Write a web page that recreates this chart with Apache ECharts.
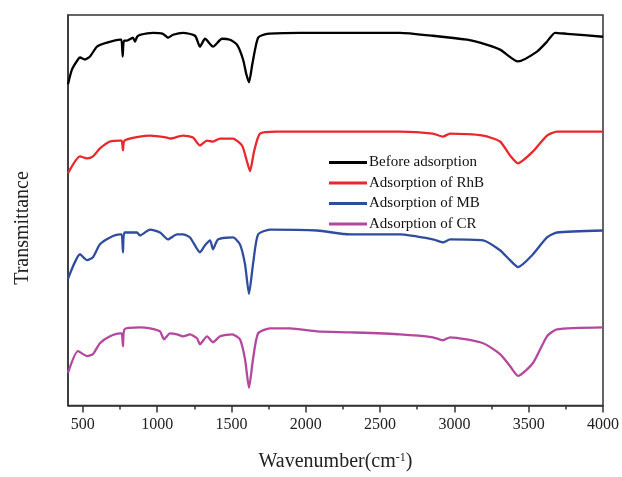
<!DOCTYPE html>
<html>
<head>
<meta charset="utf-8">
<script src="https://cdn.jsdelivr.net/npm/echarts@6/dist/echarts.min.js"></script>
<style>html,body{margin:0;padding:0;background:#fff}#c{width:622px;height:477px}</style>
</head>
<body>
<div id="c"></div>
<script>
// Wavenumber tick labels
var xMajorTicks = [500, 1000, 1500, 2000, 2500, 3000, 3500, 4000];
var xMinorTicks = [750, 1250, 1750, 2250, 2750, 3250, 3750];
var seriesNames = ['Before adsorption', 'Adsorption of RhB', 'Adsorption of MB', 'Adsorption of CR'];

// [wavenumber, transmittance (arbitrary, offset)]
var before = [[400,325],[427,340],[467,350],[481,352],[514,350],[548,353],[595,363],[662,367],[750,370],[760,370],[768,353],[776,369],[797,369],[837,372],[851,368],[865,373],[884,375],[972,377],[1039,376],[1073,372],[1107,375],[1174,377],[1255,374],[1288,363],[1322,371],[1376,363],[1436,371],[1490,370],[1537,365],[1578,350],[1600,335],[1618,327],[1640,345],[1679,372],[1739,376],[1961,377],[2096,377],[2634,377],[2856,374],[3085,370],[3172,367],[3307,360],[3428,348],[3556,358],[3623,368],[3677,377],[3758,376],[4000,373]];
var rhb = [[400,235],[481,252],[528,250],[568,252],[615,260],[683,267],[750,268],[762,268],[770,258],[780,268],[884,272],[952,273],[1066,271],[1086,270],[1174,273],[1241,271],[1288,263],[1335,268],[1376,267],[1423,270],[1510,270],[1571,263],[1604,247],[1625,237],[1652,257],[1692,275],[1806,277],[2298,277],[2634,277],[2856,275],[2923,272],[2971,275],[3193,273],[3307,267],[3374,253],[3428,245],[3529,257],[3623,273],[3690,277],[4000,277]];
var mb = [[400,128],[481,153],[528,147],[568,150],[615,163],[683,170],[750,173],[762,173],[770,155],[780,175],[864,175],[884,172],[952,178],[1019,175],[1073,168],[1133,173],[1174,173],[1221,170],[1288,155],[1322,162],[1356,167],[1376,158],[1409,168],[1510,170],[1557,163],[1591,143],[1618,113],[1645,143],[1679,173],[1759,178],[2076,177],[2298,173],[2634,173],[2856,168],[2923,165],[2971,168],[3193,167],[3307,157],[3374,147],[3428,140],[3529,153],[3623,170],[3690,175],[4000,177]];
var cr = [[400,33],[467,55],[528,50],[568,52],[615,63],[683,70],[750,73],[762,73],[770,60],[780,77],[884,79],[952,78],[1019,75],[1046,67],[1086,73],[1133,72],[1174,70],[1221,72],[1268,68],[1288,62],[1335,70],[1376,64],[1423,70],[1504,72],[1557,67],[1591,47],[1618,18],[1645,47],[1679,73],[1759,78],[1894,78],[2076,75],[2298,74],[2634,72],[2856,69],[2923,66],[2971,69],[3193,63],[3307,52],[3374,40],[3428,30],[3529,43],[3623,70],[3690,77],[4000,79]];

var colors = ['#000000', '#e8282c', '#2f4c9f', '#b3489e'];
var serif = 'Liberation Serif';

var chart = echarts.init(document.getElementById('c'), null, {renderer: 'canvas'});
function mk(name, data, color) {
  return {
    name: name, type: 'line', data: data, showSymbol: false, symbol: 'none',
    smooth: 0.2, xAxisIndex: 0, yAxisIndex: 0,
    lineStyle: {color: color, width: 2.3}, itemStyle: {color: color}
  };
}
chart.setOption({
  animation: false,
  backgroundColor: '#ffffff',
  grid: {left: 68, right: 19, top: 15, bottom: 67, show: true, borderColor: '#333', borderWidth: 1.5, backgroundColor: 'transparent'},
  legend: {
    orient: 'vertical', left: 324, top: 150,
    icon: 'rect', itemWidth: 38, itemHeight: 3, itemGap: 5.5,
    textStyle: {fontFamily: serif, fontSize: 15, color: '#111', lineHeight: 15, padding: [0, 0, 0, -3]},
    data: seriesNames
  },
  xAxis: [{
    type: 'value', min: 400, max: 4000, position: 'bottom',
    axisLine: {show: true, lineStyle: {color: '#333', width: 1.5}},
    axisTick: {show: true, customValues: xMajorTicks, length: 7, lineStyle: {color: '#333', width: 1.5}},
    axisLabel: {show: true, customValues: xMajorTicks, margin: 11, fontFamily: serif, fontSize: 16, color: '#222',
      formatter: function (v) { return String(v); }},
    splitLine: {show: false},
    name: 'Wavenumber(cm{sup|-1})', nameLocation: 'middle', nameGap: 46,
    nameTextStyle: {fontFamily: serif, fontSize: 20, color: '#222',
      rich: {sup: {fontFamily: serif, fontSize: 12, color: '#222', padding: [0, 0, 9, 0]}}}
  }, {
    type: 'value', min: 400, max: 4000, position: 'bottom', gridIndex: 0,
    axisLine: {show: false},
    axisTick: {show: true, customValues: xMinorTicks, length: 4, lineStyle: {color: '#333', width: 1.5}},
    axisLabel: {show: false}, splitLine: {show: false}
  }],
  yAxis: {
    type: 'value', min: 0, max: 395,
    axisLine: {show: true, lineStyle: {color: '#333', width: 1.5}},
    axisTick: {show: false}, axisLabel: {show: false}, splitLine: {show: false}
  },
  graphic: [{
    type: 'text', x: 23, y: 228, rotation: Math.PI / 2,
    style: {text: 'Transmittance', fontFamily: serif, fontSize: 20, fill: '#222', align: 'center', verticalAlign: 'middle'}
  }],
  series: [
    mk(seriesNames[0], before, colors[0]),
    mk(seriesNames[1], rhb, colors[1]),
    mk(seriesNames[2], mb, colors[2]),
    mk(seriesNames[3], cr, colors[3])
  ]
});
</script>
</body>
</html>
